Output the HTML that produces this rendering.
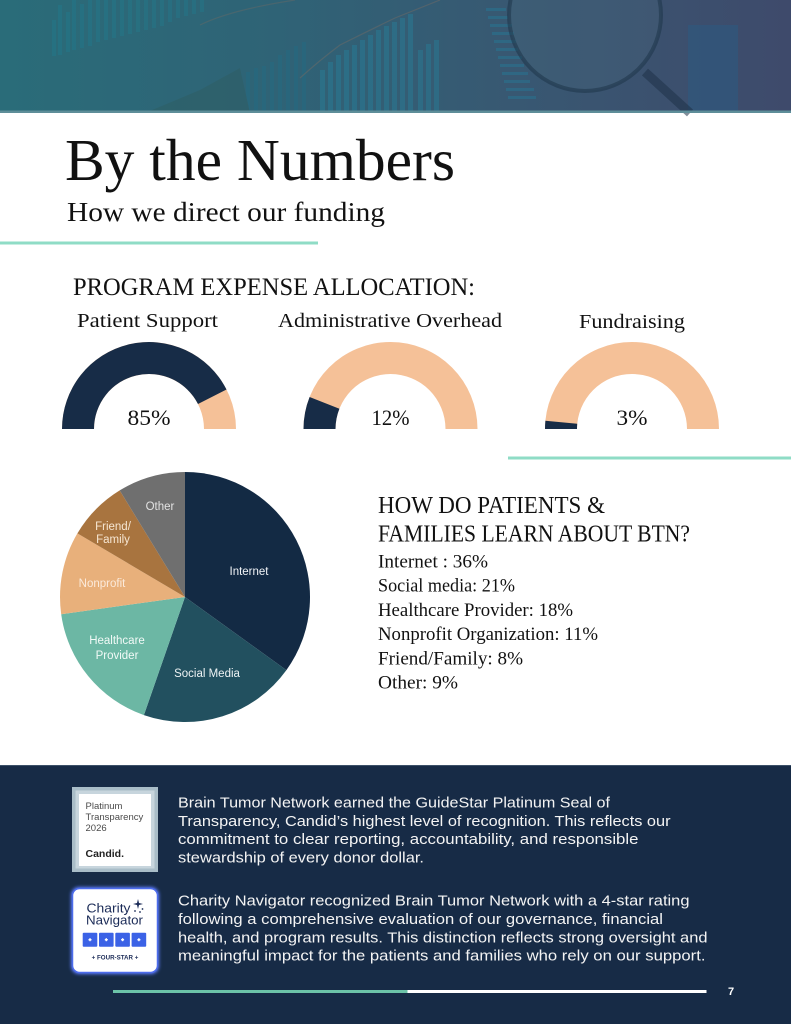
<!DOCTYPE html>
<html><head><meta charset="utf-8"><style>
html,body{margin:0;padding:0;background:#fff;}
svg{display:block;}
.serif{font-family:"Liberation Serif","DejaVu Serif",serif;}
.sans{font-family:"Liberation Sans","DejaVu Sans",sans-serif;}
</style></head><body>
<svg width="791" height="1024" viewBox="0 0 791 1024" xmlns="http://www.w3.org/2000/svg">
<defs>
<linearGradient id="bg" x1="0" y1="0" x2="1" y2="0">
<stop offset="0" stop-color="#2a6c79"/>
<stop offset="0.35" stop-color="#2f6376"/>
<stop offset="0.65" stop-color="#385872"/>
<stop offset="1" stop-color="#3e4a6b"/>
</linearGradient>
<filter id="glow" x="-20%" y="-20%" width="140%" height="140%"><feGaussianBlur stdDeviation="1.5"/></filter>
</defs>
<rect width="791" height="1024" fill="#ffffff"/>
<!-- Banner -->
<rect x="0" y="0" width="791" height="113" fill="url(#bg)"/>
<g opacity="0.35">
<g fill="#1f7f92">
<rect x="52" y="20" width="4" height="36"/><rect x="58" y="5" width="4" height="50"/>
<rect x="66" y="12" width="4" height="40"/><rect x="72" y="0" width="4" height="50"/>
<rect x="80" y="4" width="4" height="44"/><rect x="88" y="0" width="4" height="46"/>
<rect x="96" y="0" width="4" height="42"/><rect x="104" y="0" width="4" height="40"/>
<rect x="112" y="0" width="4" height="38"/><rect x="120" y="0" width="4" height="36"/>
<rect x="128" y="0" width="4" height="34"/><rect x="136" y="0" width="4" height="32"/>
<rect x="144" y="0" width="4" height="30"/><rect x="152" y="0" width="4" height="28"/>
<rect x="160" y="0" width="4" height="26"/><rect x="168" y="0" width="4" height="22"/>
<rect x="176" y="0" width="4" height="18"/><rect x="184" y="0" width="4" height="16"/>
<rect x="192" y="0" width="4" height="14"/><rect x="200" y="0" width="4" height="12"/>
</g>
<g fill="#1e6f88">
<rect x="200" y="110" width="4" height="3"/><rect x="208" y="100" width="4" height="13"/>
<rect x="214" y="85" width="4" height="28"/><rect x="222" y="82" width="4" height="31"/>
<rect x="230" y="78" width="4" height="35"/><rect x="238" y="74" width="4" height="39"/>
<rect x="246" y="72" width="4" height="41"/><rect x="254" y="68" width="4" height="45"/>
<rect x="262" y="66" width="4" height="47"/><rect x="270" y="62" width="4" height="51"/>
<rect x="278" y="55" width="4" height="58"/><rect x="286" y="50" width="4" height="63"/>
<rect x="294" y="46" width="4" height="67"/><rect x="302" y="42" width="4" height="71"/>
</g>
<path d="M145 113 L200 90 L240 68 L250 113 Z" fill="#2f5a5a"/>
<path d="M200 25 Q230 10 295 0" stroke="#7a6b60" stroke-width="1.2" fill="none"/>
<g fill="#2389a6">
<rect x="320" y="70" width="5" height="43"/><rect x="328" y="62" width="5" height="51"/>
<rect x="336" y="55" width="5" height="58"/><rect x="344" y="50" width="5" height="63"/>
<rect x="352" y="45" width="5" height="68"/><rect x="360" y="40" width="5" height="73"/>
<rect x="368" y="35" width="5" height="78"/><rect x="376" y="30" width="5" height="83"/>
<rect x="384" y="26" width="5" height="87"/><rect x="392" y="22" width="5" height="91"/>
<rect x="400" y="18" width="5" height="95"/><rect x="408" y="14" width="5" height="99"/>
<rect x="418" y="50" width="5" height="63"/><rect x="426" y="44" width="5" height="69"/>
<rect x="434" y="40" width="5" height="73"/>
</g>
<path d="M300 78 Q320 60 340 45 Q370 30 395 18 Q420 8 440 0" stroke="#8a7060" stroke-width="1.2" fill="none"/>
<g fill="#1f84a4">
<rect x="486" y="8" width="20" height="3"/><rect x="488" y="16" width="20" height="3"/>
<rect x="490" y="24" width="22" height="3"/><rect x="492" y="32" width="22" height="3"/>
<rect x="494" y="40" width="22" height="3"/><rect x="496" y="48" width="22" height="3"/>
<rect x="498" y="56" width="24" height="3"/><rect x="500" y="64" width="24" height="3"/>
<rect x="502" y="72" width="26" height="3"/><rect x="504" y="80" width="26" height="3"/>
<rect x="506" y="88" width="28" height="3"/><rect x="508" y="96" width="28" height="3"/>
</g>
<rect x="688" y="25" width="50" height="88" fill="#22608c"/>
</g>
<circle cx="585" cy="15" r="76" fill="#4a6a80" opacity="0.25"/>
<circle cx="585" cy="15" r="76" fill="none" stroke="#1e3448" stroke-width="4" opacity="0.55"/>
<path d="M645 72 L690 113" stroke="#1e3248" stroke-width="9" opacity="0.55"/>
<rect x="0" y="110.5" width="791" height="2.5" fill="#5e8e99"/>

<!-- Title -->
<text class="serif" x="65" y="180" font-size="59" fill="#111" textLength="390" lengthAdjust="spacingAndGlyphs">By the Numbers</text>
<text class="serif" x="67" y="221" font-size="27" fill="#111" textLength="318" lengthAdjust="spacingAndGlyphs">How we direct our funding</text>
<rect x="0" y="241.5" width="318" height="3" fill="#8fdcc6"/>

<text class="serif" x="73" y="295" font-size="25" fill="#111" textLength="402" lengthAdjust="spacingAndGlyphs">PROGRAM EXPENSE ALLOCATION:</text>
<text class="serif" x="77" y="327" font-size="19.5" fill="#111" textLength="141" lengthAdjust="spacingAndGlyphs">Patient Support</text>
<text class="serif" x="278" y="327" font-size="19.5" fill="#111" textLength="224" lengthAdjust="spacingAndGlyphs">Administrative Overhead</text>
<text class="serif" x="579" y="328" font-size="19.5" fill="#111" textLength="106" lengthAdjust="spacingAndGlyphs">Fundraising</text>

<!-- Gauges -->
<path d="M62 429 A87 87 0 0 1 236 429 L204 429 A55 55 0 0 0 94 429 Z" fill="#f5c198"/>
<path d="M62 429 A87 87 0 0 1 226.5 389.5 L198 404 A55 55 0 0 0 94 429 Z" fill="#172c47"/>
<text class="serif" x="149" y="425" font-size="22" fill="#111" text-anchor="middle" textLength="43" lengthAdjust="spacingAndGlyphs">85%</text>

<path d="M303.5 429 A87 87 0 0 1 477.5 429 L445.5 429 A55 55 0 0 0 335.5 429 Z" fill="#f5c198"/>
<path d="M303.5 429 A87 87 0 0 1 309.6 397 L339.4 408.8 A55 55 0 0 0 335.5 429 Z" fill="#172c47"/>
<text class="serif" x="390.5" y="425" font-size="22" fill="#111" text-anchor="middle" textLength="38" lengthAdjust="spacingAndGlyphs">12%</text>

<path d="M545 429 A87 87 0 0 1 719 429 L687 429 A55 55 0 0 0 577 429 Z" fill="#f5c198"/>
<path d="M545 429 A87 87 0 0 1 545.4 420.8 L577.2 423.8 A55 55 0 0 0 577 429 Z" fill="#172c47"/>
<text class="serif" x="632" y="425" font-size="22" fill="#111" text-anchor="middle" textLength="31" lengthAdjust="spacingAndGlyphs">3%</text>

<rect x="508" y="456.5" width="283" height="3" fill="#8fdcc6"/>

<!-- Pie -->
<path d="M185 597 L185 472 A125 125 0 0 1 286.4 670.1 Z" fill="#132a44"/>
<path d="M185 597 L286.4 670.1 A125 125 0 0 1 143.9 715.1 Z" fill="#22505f"/>
<path d="M185 597 L143.9 715.1 A125 125 0 0 1 61.2 614.2 Z" fill="#6cb7a4"/>
<path d="M185 597 L61.2 614.2 A125 125 0 0 1 77.4 533.4 Z" fill="#e8b07b"/>
<path d="M185 597 L77.4 533.4 A125 125 0 0 1 119.7 490.4 Z" fill="#a8743f"/>
<path d="M185 597 L119.7 490.4 A125 125 0 0 1 185 472 Z" fill="#6f6f6f"/>
<g class="sans" font-size="11.5" text-anchor="middle">
<text x="160" y="510" fill="#e2e2e2">Other</text>
<text x="113" y="530" fill="#f6e6d2">Friend/</text>
<text x="113" y="543" fill="#f6e6d2">Family</text>
<text x="102" y="587" fill="#fbeadb">Nonprofit</text>
<text x="117" y="644" fill="#f2faf7">Healthcare</text>
<text x="117" y="659" fill="#f2faf7">Provider</text>
<text x="207" y="677" fill="#eef3f4">Social Media</text>
<text x="249" y="575" fill="#f2f4f7">Internet</text>
</g>

<!-- Right text -->
<text class="serif" x="378" y="513" font-size="24" fill="#111" textLength="227" lengthAdjust="spacingAndGlyphs">HOW DO PATIENTS &amp;</text>
<text class="serif" x="378" y="541.5" font-size="24" fill="#111" textLength="312" lengthAdjust="spacingAndGlyphs">FAMILIES LEARN ABOUT BTN?</text>
<g class="serif" font-size="19" fill="#111">
<text x="378" y="567.5" textLength="110" lengthAdjust="spacingAndGlyphs">Internet : 36%</text>
<text x="378" y="591.7" textLength="137" lengthAdjust="spacingAndGlyphs">Social media: 21%</text>
<text x="378" y="615.9" textLength="195" lengthAdjust="spacingAndGlyphs">Healthcare Provider: 18%</text>
<text x="378" y="640.1" textLength="220" lengthAdjust="spacingAndGlyphs">Nonprofit Organization: 11%</text>
<text x="378" y="664.3" textLength="145" lengthAdjust="spacingAndGlyphs">Friend/Family: 8%</text>
<text x="378" y="688.5" textLength="80" lengthAdjust="spacingAndGlyphs">Other: 9%</text>
</g>

<!-- Footer -->
<rect x="0" y="765" width="791" height="259" fill="#172b46"/>
<rect x="0" y="765" width="791" height="1" fill="#3c5068"/>

<!-- Candid badge -->
<rect x="72" y="787" width="86" height="85" fill="#a9bdc8"/>
<rect x="75.5" y="790.5" width="79" height="78" fill="#c7d5dd"/>
<rect x="79" y="794" width="72" height="72" fill="#ffffff"/>
<g class="sans" font-size="9.5" fill="#4a4a4a">
<text x="85.5" y="809">Platinum</text>
<text x="85.5" y="820">Transparency</text>
<text x="85.5" y="831">2026</text>
</g>
<text class="sans" x="85.5" y="857" font-size="10.5" font-weight="bold" fill="#222">Candid.</text>

<!-- Charity Navigator badge -->
<rect x="71" y="887" width="88" height="87" rx="8" fill="#5b7cff" filter="url(#glow)"/>
<rect x="72.5" y="888.5" width="85" height="84" rx="7" fill="#ffffff" stroke="#4d6cec" stroke-width="1.5"/>
<text class="sans" x="86.5" y="912.5" font-size="12.5" fill="#1b2b57" textLength="44" lengthAdjust="spacingAndGlyphs">Charity</text>
<text class="sans" x="86" y="924.5" font-size="12.5" fill="#1b2b57" textLength="57" lengthAdjust="spacingAndGlyphs">Navigator</text>
<g fill="#1b2b57">
<path d="M138 899 L139 903 L143 904 L139 905 L138 909 L137 905 L133 904 L137 903 Z"/>
<circle cx="142.5" cy="909" r="0.9"/><circle cx="135" cy="911" r="0.9"/><circle cx="140" cy="912" r="0.9"/>
</g>
<g fill="#3b62e6">
<rect x="82.7" y="932.7" width="14.6" height="14" rx="1"/>
<rect x="99" y="932.7" width="14.6" height="14" rx="1"/>
<rect x="115.3" y="932.7" width="14.6" height="14" rx="1"/>
<rect x="131.6" y="932.7" width="14.6" height="14" rx="1"/>
</g>
<g fill="#ffffff">
<rect x="88.5" y="939" width="3" height="1.4"/><rect x="89.3" y="938.2" width="1.4" height="3"/>
<rect x="104.8" y="939" width="3" height="1.4"/><rect x="105.6" y="938.2" width="1.4" height="3"/>
<rect x="121.1" y="939" width="3" height="1.4"/><rect x="121.9" y="938.2" width="1.4" height="3"/>
<rect x="137.4" y="939" width="3" height="1.4"/><rect x="138.2" y="938.2" width="1.4" height="3"/>
</g>
<text class="sans" x="115" y="959.5" font-size="6.2" font-weight="bold" fill="#1b2b57" text-anchor="middle">+  FOUR-STAR  +</text>

<!-- Footer text -->
<g class="sans" font-size="15" fill="#f4f4f4">
<text x="178" y="807.5" textLength="432" lengthAdjust="spacingAndGlyphs">Brain Tumor Network earned the GuideStar Platinum Seal of</text>
<text x="178" y="825.8" textLength="492.5" lengthAdjust="spacingAndGlyphs">Transparency, Candid’s highest level of recognition. This reflects our</text>
<text x="178" y="844" textLength="460.5" lengthAdjust="spacingAndGlyphs">commitment to clear reporting, accountability, and responsible</text>
<text x="178" y="862.3" textLength="246" lengthAdjust="spacingAndGlyphs">stewardship of every donor dollar.</text>
<text x="178" y="905.7" textLength="511.5" lengthAdjust="spacingAndGlyphs">Charity Navigator recognized Brain Tumor Network with a 4-star rating</text>
<text x="178" y="924" textLength="485" lengthAdjust="spacingAndGlyphs">following a comprehensive evaluation of our governance, financial</text>
<text x="178" y="942.3" textLength="529.5" lengthAdjust="spacingAndGlyphs">health, and program results. This distinction reflects strong oversight and</text>
<text x="178" y="960.6" textLength="527.5" lengthAdjust="spacingAndGlyphs">meaningful impact for the patients and families who rely on our support.</text>
</g>

<rect x="113" y="990" width="294.5" height="3" fill="#6cc3a8"/>
<rect x="407.5" y="990" width="299" height="3" fill="#ffffff"/>
<text class="sans" x="731" y="995" font-size="11" font-weight="bold" fill="#ffffff" text-anchor="middle">7</text>
</svg>
</body></html>
